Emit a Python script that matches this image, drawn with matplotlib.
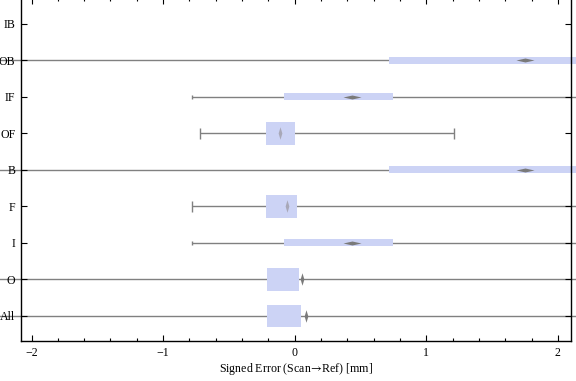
import numpy as np
import matplotlib
matplotlib.use("Agg")
import matplotlib.pyplot as plt
from matplotlib.path import Path
from matplotlib.patches import Rectangle
from matplotlib.ticker import MultipleLocator

# ---- data ----
categories = ["All", "O", "I", "F", "B", "OF", "IF", "OB", "IB"]
whisker_lo = [-2.6, -2.6, -0.78, -0.78, -2.6, -0.72, -0.78, -2.6, np.nan]
q1 =         [-0.213, -0.213, -0.084, -0.22, 0.715, -0.22, -0.084, 0.715, np.nan]
q3 =         [0.051, 0.036, 0.745, 0.02, 2.6, 0.005, 0.745, 2.6, np.nan]
whisker_hi = [2.6, 2.6, 2.6, 2.6, 2.6, 1.21, 2.6, 2.6, np.nan]
center =     [0.086, 0.056, 0.436, -0.06, 1.75, -0.114, 0.436, 1.75, np.nan]
few_points = [False, False, True, False, True, False, True, True, True]

x_ticks = [-2, -1, 0, 1, 2]

# ---- style ----
W, H, DPI = 576, 381, 100
plt.rcParams['font.family'] = ['Liberation Serif', 'DejaVu Serif']
plt.rcParams['font.size'] = 8.6
plt.rcParams['mathtext.fontset'] = 'stix'
fig = plt.figure(figsize=(W / DPI, H / DPI), dpi=DPI)
ax = fig.add_axes([21 / W, 40 / H, 550 / W, 343 / H])
xlim = (-2.08, 2.10)
ax.set_xlim(*xlim)
ax.set_ylim(0.315, 9.71)

line_c = '#808080'
box_c = '#ccd3f5'
px_y = 36.5  # px per category unit

hdiamond = Path([(-1, 0), (0, 0.22), (1, 0), (0, -0.22), (-1, 0)],
                [Path.MOVETO, Path.LINETO, Path.LINETO, Path.LINETO, Path.CLOSEPOLY])
vdiamond = Path([(0, -1), (0.3, 0), (0, 1), (-0.3, 0), (0, -1)],
                [Path.MOVETO, Path.LINETO, Path.LINETO, Path.LINETO, Path.CLOSEPOLY])

for i, cat in enumerate(categories):
    y = i + 1
    if np.isnan(q1[i]):
        continue
    bh_px = 7 if few_points[i] else 22.5
    bh = bh_px / px_y
    ax.plot([whisker_lo[i], whisker_hi[i]], [y, y], color=line_c, lw=1.0,
            zorder=1, clip_on=False, solid_capstyle='butt')
    for wx in (whisker_lo[i], whisker_hi[i]):
        if xlim[0] < wx < xlim[1]:
            ax.plot([wx, wx], [y - bh / 4, y + bh / 4], color=line_c, lw=1.0,
                    zorder=1, solid_capstyle='butt')
    ax.add_patch(Rectangle((q1[i], y - bh / 2), q3[i] - q1[i], bh,
                           facecolor=box_c, edgecolor='none', zorder=2,
                           clip_on=False))
    if few_points[i]:
        ax.plot([center[i]], [y], marker=hdiamond, markersize=13,
                color='#7a7a7a', mec='none', zorder=3)
    else:
        inside = q1[i] < center[i] < q3[i]
        ax.plot([center[i]], [y], marker=vdiamond, markersize=9,
                color='#a8a8b8' if inside else '#7a7a7a', mec='none', zorder=3)

ax.set_yticks(range(1, len(categories) + 1))
ax.set_yticklabels(categories)
ax.set_xticks(x_ticks)
ax.set_xticklabels([f"{t}".replace('-', '\u2212') for t in x_ticks])
ax.xaxis.set_minor_locator(MultipleLocator(0.2))
ax.tick_params(axis='x', which='major', direction='in', length=4.5, width=0.8,
               top=True, pad=4)
ax.tick_params(axis='x', which='minor', direction='in', length=2.5, width=0.8,
               top=True)
ax.tick_params(axis='y', which='major', direction='in', length=4, width=0.8,
               right=True, pad=4)
ax.tick_params(axis='y', which='minor', left=False, right=False)
for s in ax.spines.values():
    s.set_linewidth(1.0)
ax.spines['top'].set_visible(False)
ax.set_xlabel(r"Signed Error (Scan$\!\rightarrow\!$Ref) [mm]", labelpad=2)

fig.savefig("out.png", dpi=DPI)
